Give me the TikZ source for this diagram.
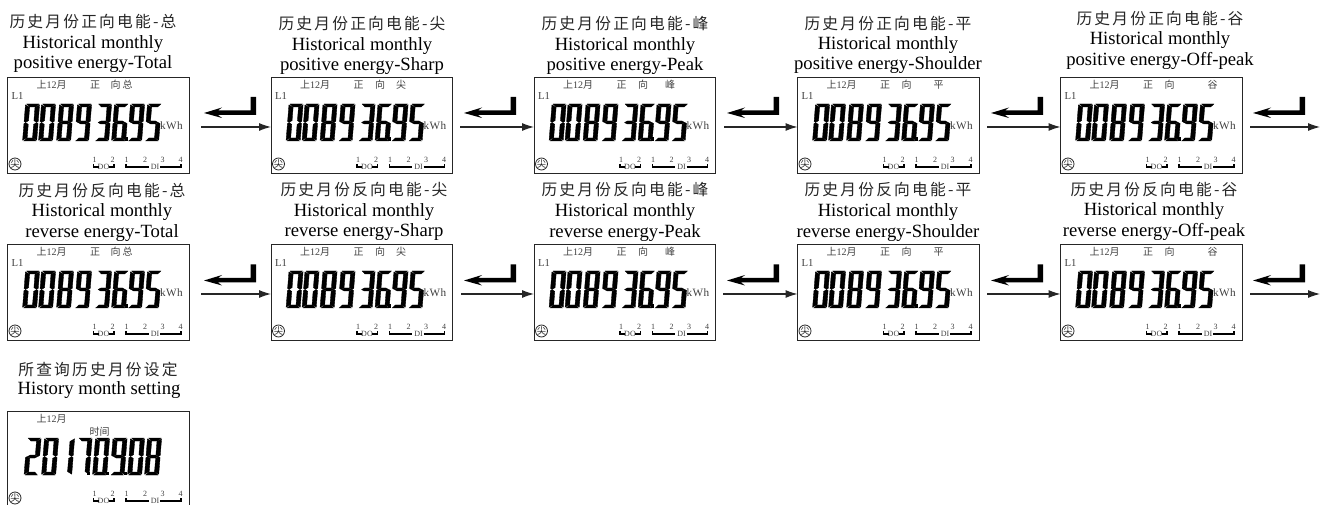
\documentclass[tikz,border=0pt]{standalone}
\usepackage{fontspec}
\setmainfont{Liberation Serif}
\newfontfamily\cjk{Noto Sans CJK SC}
\newfontfamily\cjkcap[LetterSpace=14]{Noto Sans CJK SC}
\usetikzlibrary{arrows.meta}
\definecolor{lcdgray}{gray}{0.25}
\tikzset{
  lcdbox/.style={draw=black!85,line width=0.65pt,fill=none,inner sep=0,outer sep=0,minimum width=136.1pt,minimum height=72pt,anchor=north west},
  capzh/.style={inner sep=0,outer sep=0,anchor=center,text=black!85,font=\cjkcap\fontsize{11.8}{13}\selectfont},
  capen/.style={inner sep=0,outer sep=0,anchor=base,text=black,font=\fontsize{14}{16}\selectfont},
  small/.style={inner sep=0,outer sep=0,anchor=center,text=lcdgray,font=\cjk\fontsize{7.5}{9}\selectfont},
  tiny/.style={inner sep=0,outer sep=0,anchor=center,text=lcdgray,font=\fontsize{6}{7}\selectfont},
  kwh/.style={inner sep=0,outer sep=0,anchor=center,text=lcdgray,font=\fontsize{8.4}{10}\selectfont},
  flow/.style={-{Latex[length=9pt,width=6pt]},draw=black!85,line width=0.8pt},
  bracket/.style={draw=black,line width=0.85pt},
  seg/.style={fill=black,draw=black,line width=0.25pt},
}
\def\sA{\path[seg] (1,0)--(11.5,0)--(9,3)--(3.6,3)--cycle;}
\def\sB{\path[seg] (12.2,.8)--(12.2,17.4)--(10.8,18.4)--(8.4,16.6)--(8.4,3.4)--cycle;}
\def\sC{\path[seg] (12.2,19.6)--(12.2,36.2)--(8.4,33.6)--(8.4,20.4)--(10.8,18.6)--cycle;}
\def\sD{\path[seg] (1,37)--(11.5,37)--(9,34)--(3.6,34)--cycle;}
\def\sE{\path[seg] (0,19.6)--(0,36.2)--(3.8,33.6)--(3.8,20.4)--(1.4,18.6)--cycle;}
\def\sF{\path[seg] (0,.8)--(0,17.4)--(1.4,18.4)--(3.8,16.6)--(3.8,3.4)--cycle;}
\def\sG{\path[seg] (1.8,18.5)--(4.1,17)--(8.1,17)--(10.4,18.5)--(8.1,20)--(4.1,20)--cycle;}
\expandafter\def\csname dg0\endcsname{\sA\sB\sC\sD\sE\sF}
\expandafter\def\csname dg1\endcsname{\sB\sC}
\expandafter\def\csname dg2\endcsname{\sA\sB\sG\sE\sD}
\expandafter\def\csname dg3\endcsname{\sA\sB\sG\sC\sD}
\expandafter\def\csname dg5\endcsname{\sA\sF\sG\sC\sD}
\expandafter\def\csname dg6\endcsname{\sA\sF\sG\sE\sC\sD}
\expandafter\def\csname dg7\endcsname{\sA\sB\sC}
\expandafter\def\csname dg8\endcsname{\sA\sB\sC\sD\sE\sF\sG}
\expandafter\def\csname dg9\endcsname{\sA\sB\sC\sD\sF\sG}
\newcommand\dg[2]{\begin{scope}[shift={(#1+2.5,27)},xslant=0.08,xscale=1.16]\csname dg#2\endcsname\end{scope}}
\newcommand\dotpt[1]{\fill (#1,60.5) rectangle ++(3,3.5);}
% common LCD furniture, coordinates relative to the box corner
\newcommand\furn[1]{%
  \node[small] (#1m) at (44,8) {上\rmfamily 12\cjk 月};
  \draw[black!85,line width=0.6pt] (7.5,87) circle (6);
  \node[inner sep=0,outer sep=0,text=black!85,font=\cjk\fontsize{7}{8}\selectfont] (#1c) at (7.5,87) {尖};
  \node[tiny] (#1p) at (87,83) {1};
  \node[tiny] (#1q) at (105,83) {2};
  \node[tiny] (#1o) at (96,90) {DO};
  \node[tiny] (#1r) at (119,83) {1};
  \node[tiny] (#1s) at (137.5,83) {2};
  \node[tiny] (#1u) at (155,83) {3};
  \node[tiny] (#1v) at (173,83) {4};
  \node[tiny] (#1i) at (147.5,90) {DI};
  \draw[bracket] (86,87)--(86,90)--(91,90);
  \draw[bracket] (101,90)--(106.5,90)--(106.5,87);
  \draw[bracket] (118.5,87)--(118.5,90)--(141,90);
  \draw[bracket] (152.5,90)--(173.5,90)--(173.5,87);
}
% energy screen: name, x, y, xpos of tag 3, tag 3, xpos of 向
\newcommand\lcd[6]{%
  \node[lcdbox] (#1) at (#2,#3) {};
  \begin{scope}[shift={(#2,#3)}]
    \furn{#1}
    \node[small] (#1a) at (87.5,8) {正};
    \node[small] (#1b) at (#6,8) {向};
    \node[small] (#1t) at (#4,8) {#5};
    \node[small,font=\fontsize{8}{9}\selectfont] (#1l) at (10,19) {L1};
    \node[kwh] (#1k) at (164,49) {k\kern.3pt W\kern.3pt h};
    \dg{15.5}{0}\dg{31.5}{0}\dg{49.5}{8}\dg{67.5}{9}\dg{87.5}{3}\dg{104.5}{6}\dg{120.5}{9}\dg{137.5}{5}
    \dotpt{117}
  \end{scope}
}
\newcommand\capt[8]{%
  \node[capzh] (#1z) at (#2,#3) {#6};
  \node[capen] (#1e) at (#2,#4) {#7};
  \node[capen] (#1f) at (#2,#5) {#8};
}
\newcommand\hook[2]{%
  \fill[black] (#1,#2+16)--(#1+18,#2+10.5)--(#1+14,#2+13.5)--(#1+46.5,#2+13.5)--(#1+46.5,#2)--(#1+52,#2)--(#1+52,#2+18)--(#1+14,#2+18)--(#1+18,#2+21)--cycle;
}
\begin{document}
\begin{tikzpicture}[x=0.75pt,y=-0.75pt]
\useasboundingbox (0,0) rectangle (1330,505);
\clip (0,0) rectangle (1330,505);
% row 1
\capt{a1}{93}{22}{49}{69}{历史月份正向电能-总}{Historical monthly}{positive energy-Total}
\capt{a2}{362}{24}{51}{71}{历史月份正向电能-尖}{Historical monthly}{positive energy-Sharp}
\capt{a3}{625}{24}{51}{71}{历史月份正向电能-峰}{Historical monthly}{positive energy-Peak}
\capt{a4}{888}{24}{50}{70}{历史月份正向电能-平}{Historical monthly}{positive energy-Shoulder}
\capt{a5}{1160}{19}{45}{66}{历史月份正向电能-谷}{Historical monthly}{positive energy-Off-peak}
\lcd{p1}{7.5}{77}{120}{总}{108}
\lcd{p2}{271}{77}{130}{尖}{109}
\lcd{p3}{534}{77}{136}{峰}{109}
\lcd{p4}{797.5}{77}{141}{平}{109}
\lcd{p5}{1060.5}{77}{152}{谷}{109}
% row 2
\capt{b1}{102}{191}{217}{238}{历史月份反向电能-总}{Historical monthly}{reverse energy-Total}
\capt{b2}{364}{190}{217}{237}{历史月份反向电能-尖}{Historical monthly}{reverse energy-Sharp}
\capt{b3}{625}{190}{217}{238}{历史月份反向电能-峰}{Historical monthly}{reverse energy-Peak}
\capt{b4}{888}{190}{217}{238}{历史月份反向电能-平}{Historical monthly}{reverse energy-Shoulder}
\capt{b5}{1154}{190}{216}{237}{历史月份反向电能-谷}{Historical monthly}{reverse energy-Off-peak}
\lcd{q1}{7.5}{244}{120}{总}{108}
\lcd{q2}{271}{244}{130}{尖}{109}
\lcd{q3}{534}{244}{136}{峰}{109}
\lcd{q4}{797.5}{244}{141}{平}{109}
\lcd{q5}{1060.5}{244}{152}{谷}{109}
% row 3
\node[capzh] (c1z) at (98,369) {所查询历史月份设定};
\node[capen] (c1e) at (99,395) {History month setting};
\node[lcdbox] (r1) at (7.5,411) {};
\begin{scope}[shift={(7.5,411)}]
  \furn{r1}
  \node[small] (r1t) at (92,20.5) {时间};
  \dg{17}{2}\dg{34.5}{0}\dg{50.5}{1}\dg{68}{7}\dg{85.5}{0}\dg{103}{9}\dg{120.5}{0}\dg{137.5}{8}
  \dotpt{79}\dotpt{98.5}\dotpt{116}
\end{scope}
% enter-key marks
\hook{204}{97}\hook{464}{97}\hook{727}{97}\hook{991}{97}\hook{1253}{97}
\hook{204}{264.5}\hook{464}{264.5}\hook{727}{264.5}\hook{991}{264.5}\hook{1253}{264.5}
% connectors
\coordinate (e1) at (1320,127);
\coordinate (e2) at (1320,294);
\foreach \r/\y/\a/\b/\s in {p/127/p1/p2/201,p/127/p2/p3/460,p/127/p3/p4/724,p/127/p4/p5/987,q/294/q1/q2/201,q/294/q2/q3/461,q/294/q3/q4/723,q/294/q4/q5/987}{
  \coordinate (s\a) at (\s,\y);
  \draw[flow] (s\a) -- (s\a -| \b.west);
}
\coordinate (sp5) at (1250,127);
\coordinate (sq5) at (1250,294);
\draw[flow] (sp5) -- (e1);
\draw[flow] (sq5) -- (e2);
\end{tikzpicture}
\end{document}
